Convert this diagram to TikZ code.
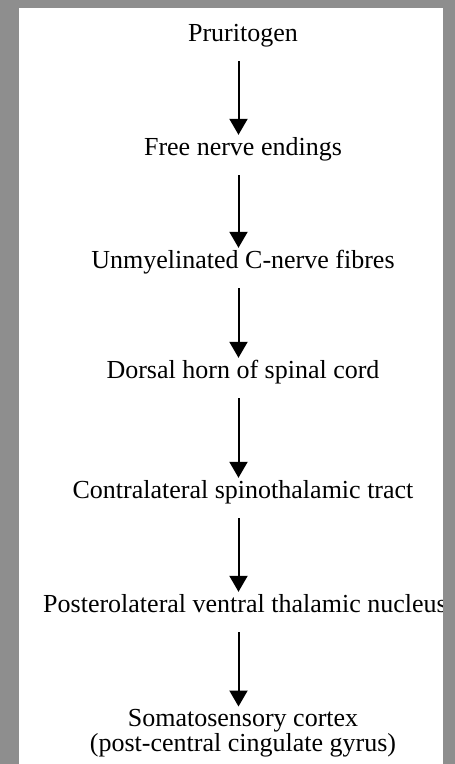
\documentclass[tikz,border=0pt]{standalone}
\usepackage{fontspec}
\setmainfont{Liberation Serif}
\usetikzlibrary{arrows.meta}
\definecolor{framegray}{RGB}{142,142,142}
\tikzset{
  stage/.style={anchor=base, inner sep=0pt, text height=17pt, text depth=6pt, font=\fontsize{26}{25}\selectfont},
  flow/.style={-{Triangle[width=18pt,length=16pt]}, line width=2pt, shorten <=14pt, shorten >=3pt}
}
\begin{document}
\begin{tikzpicture}[x=1pt,y=-1pt]
\fill[framegray] (0,0) rectangle (455,764);
\fill[white] (19,7.5) rectangle (442.5,764);
\node[stage] (s1) at (243,41) {Pruritogen};
\node[stage] (s2) at (243,155) {Free nerve endings};
\node[stage] (s3) at (243,268) {Unmyelinated C-nerve fibres};
\node[stage] (s4) at (243,378) {Dorsal horn of spinal cord};
\node[stage] (s5) at (243,498) {Contralateral spinothalamic tract};
\node[stage] (s6) at (245,612) {Posterolateral ventral thalamic nucleus};
\node[anchor=north, inner sep=0pt, align=center, font=\fontsize{26}{25}\selectfont] (s7) at (243,709.5) {Somatosensory cortex\\(post-central cingulate gyrus)};
\draw[flow] ([xshift=-4.5pt]s1.south) -- ([xshift=-4.5pt]s2.north);
\draw[flow] ([xshift=-4.5pt]s2.south) -- ([xshift=-4.5pt]s3.north);
\draw[flow] ([xshift=-4.5pt]s3.south) -- ([xshift=-4.5pt]s4.north);
\draw[flow] ([xshift=-4.5pt]s4.south) -- ([xshift=-4.5pt]s5.north);
\draw[flow] ([xshift=-6.5pt]s6.south) -- ([xshift=-6.5pt]s6.south |- s7.north);
\draw[flow] ([xshift=-4.5pt]s5.south) -- ([xshift=-6.5pt]s6.north);
% right frame bar over the clipped line
\fill[framegray] (442.5,0) rectangle (455,764);
\end{tikzpicture}
\end{document}
